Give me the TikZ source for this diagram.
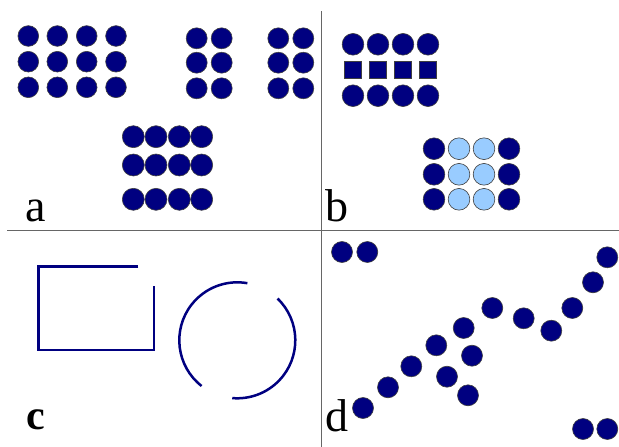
\documentclass[tikz,border=0pt]{standalone}
\usepackage{fontspec}
\setmainfont{Liberation Serif}
\definecolor{navyfill}{HTML}{000080}
\definecolor{lightfill}{HTML}{99CCFF}
\tikzset{
  dot/.style={circle, fill=navyfill, draw=black!75, line width=0.6pt, minimum size=21pt, inner sep=0pt},
  lightdot/.style={dot, fill=lightfill},
  sq/.style={rectangle, fill=navyfill, draw=black!75, line width=0.6pt, minimum size=17pt, inner sep=0pt},
  divider/.style={draw=black!60, line width=0.9pt},
  shapeline/.style={draw=navyfill, line width=2.5pt},
  lbl/.style={anchor=base west, inner sep=0pt, font=\fontsize{46}{50}\selectfont},
}
\begin{document}
\begin{tikzpicture}[x=1pt,y=-1pt]
\useasboundingbox (0,0) rectangle (619,447);
% dividers
\coordinate (vtop) at (321,11);
\coordinate (vbot) at (321,447);
\coordinate (hl) at (7,230.5);
\coordinate (hr) at (619,230.5);
\draw[divider] (vtop) -- (vbot);
\draw[divider] (hl) -- (hr);
% panel a
\foreach \i/\x in {1/28.3,2/57.3,3/86.7,4/116}
  \foreach \j/\y in {1/36,2/61.7,3/87.3}
    \node[dot, minimum size=20.7pt] (aA\i\j) at (\x,\y) {};
\foreach \i/\x in {1/196.7,2/221.7}
  \foreach \j/\y in {1/38.3,2/62.7,3/88.3}
    \node[dot] (aB\i\j) at (\x,\y) {};
\foreach \i/\x in {1/278.3,2/303.3}
  \foreach \j/\y in {1/38.3,2/62.7,3/88.3}
    \node[dot] (aC\i\j) at (\x,\y) {};
\foreach \i/\x in {1/133.3,2/156,3/179.3,4/201.7}
  \foreach \j/\y in {1/136.7,2/165,3/199.3}
    \node[dot, minimum size=22pt] (aD\i\j) at (\x,\y) {};
\node[lbl] (la) at (25,221.7) {a};
% panel b
\foreach \i/\x in {1/353,2/378,3/403,4/428}{
  \node[dot, minimum size=21.7pt] (bA\i1) at (\x,44.3) {};
  \node[sq] (bA\i2) at (\x,70) {};
  \node[dot, minimum size=21.7pt] (bA\i3) at (\x,95.7) {};
}
\foreach \j/\y in {1/148.7,2/174.3,3/199.3}{
  \node[dot, minimum size=21.7pt] (bB1\j) at (434,\y) {};
  \node[lightdot, minimum size=21.7pt] (bB2\j) at (459,\y) {};
  \node[lightdot, minimum size=21.7pt] (bB3\j) at (484,\y) {};
  \node[dot, minimum size=21.7pt] (bB4\j) at (509,\y) {};
}
\node[lbl] (lb) at (325,221.7) {b};
% panel c
\coordinate (r1) at (138.3,266.3);
\coordinate (r2) at (38.3,266.3);
\coordinate (r3) at (38.3,350);
\coordinate (r4) at (154,350);
\coordinate (r5) at (154,286.3);
\draw[shapeline, line join=miter] (r1) -- (r2) -- (r3) -- (r4) -- (r5);
\coordinate (cc) at (237.3,340.3);
\draw[shapeline] ([shift={(-46:58)}]cc) arc[start angle=-46, end angle=95, radius=58];
\draw[shapeline] ([shift={(128:58)}]cc) arc[start angle=128, end angle=280, radius=58];
\node[lbl, font=\fontsize{42}{46}\selectfont\bfseries] (lc) at (26,429.3) {c};
% panel d
\node[dot] (dp1) at (342,252) {};
\node[dot] (dp2) at (367.3,252) {};
\node[dot] (dq1) at (583,429) {};
\node[dot] (dq2) at (607.3,429) {};
\foreach \n/\x/\y in {1/363/408, 2/388/387.3, 3/411.3/366.3, 4/436.3/345.3, 5/463.7/328,
  6/492.3/308, 7/523.7/318.3, 8/551.3/330.7, 9/572.3/308, 10/593/282.3, 11/607.3/257.3,
  12/472/355.7, 13/447/376.7, 14/468/395.3}
  \node[dot] (dl\n) at (\x,\y) {};
\node[lbl] (ld) at (325.5,431.7) {d};
\end{tikzpicture}
\end{document}
